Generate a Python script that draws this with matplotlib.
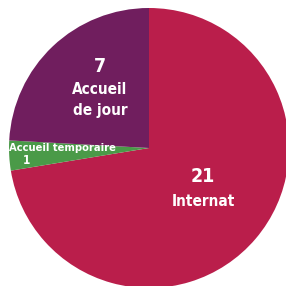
import matplotlib
matplotlib.use("Agg")
import matplotlib.pyplot as plt

# data
labels = ['Internat', 'Accueil temporaire', 'Accueil de jour']
values = [21, 1, 7]
colors = ['#BA1E4B', '#4A9A48', '#701E5E']

plt.rcParams['font.family'] = ['DejaVu Sans']

fig = plt.figure(figsize=(2.86, 2.86), dpi=100)
ax = fig.add_axes([0, 0, 1, 1])

ax.pie(values, colors=colors, startangle=90, counterclock=False,
       center=(149, 138), radius=140, frame=True,
       wedgeprops={'linewidth': 0})
ax.set_xlim(0, 286)
ax.set_ylim(0, 286)
ax.set_aspect('equal')
ax.axis('off')

# labels (y measured from bottom)
txt = dict(color='white', fontweight='bold', ha='center', va='center',
           fontstretch='condensed')
ax.text(100, 286 - 66, str(values[2]), fontsize=14, **txt)
ax.text(100, 286 - 90, 'Accueil', fontsize=11, **txt)
ax.text(100, 286 - 110, 'de jour', fontsize=11, **txt)
ax.text(203, 286 - 177, str(values[0]), fontsize=14, **txt)
ax.text(203, 286 - 201, labels[0], fontsize=11, **txt)
ax.text(62, 286 - 148, labels[1], fontsize=8, **txt)
ax.text(27, 286 - 161, str(values[1]), fontsize=8.5, **txt)

fig.savefig('out.png', dpi=100)
